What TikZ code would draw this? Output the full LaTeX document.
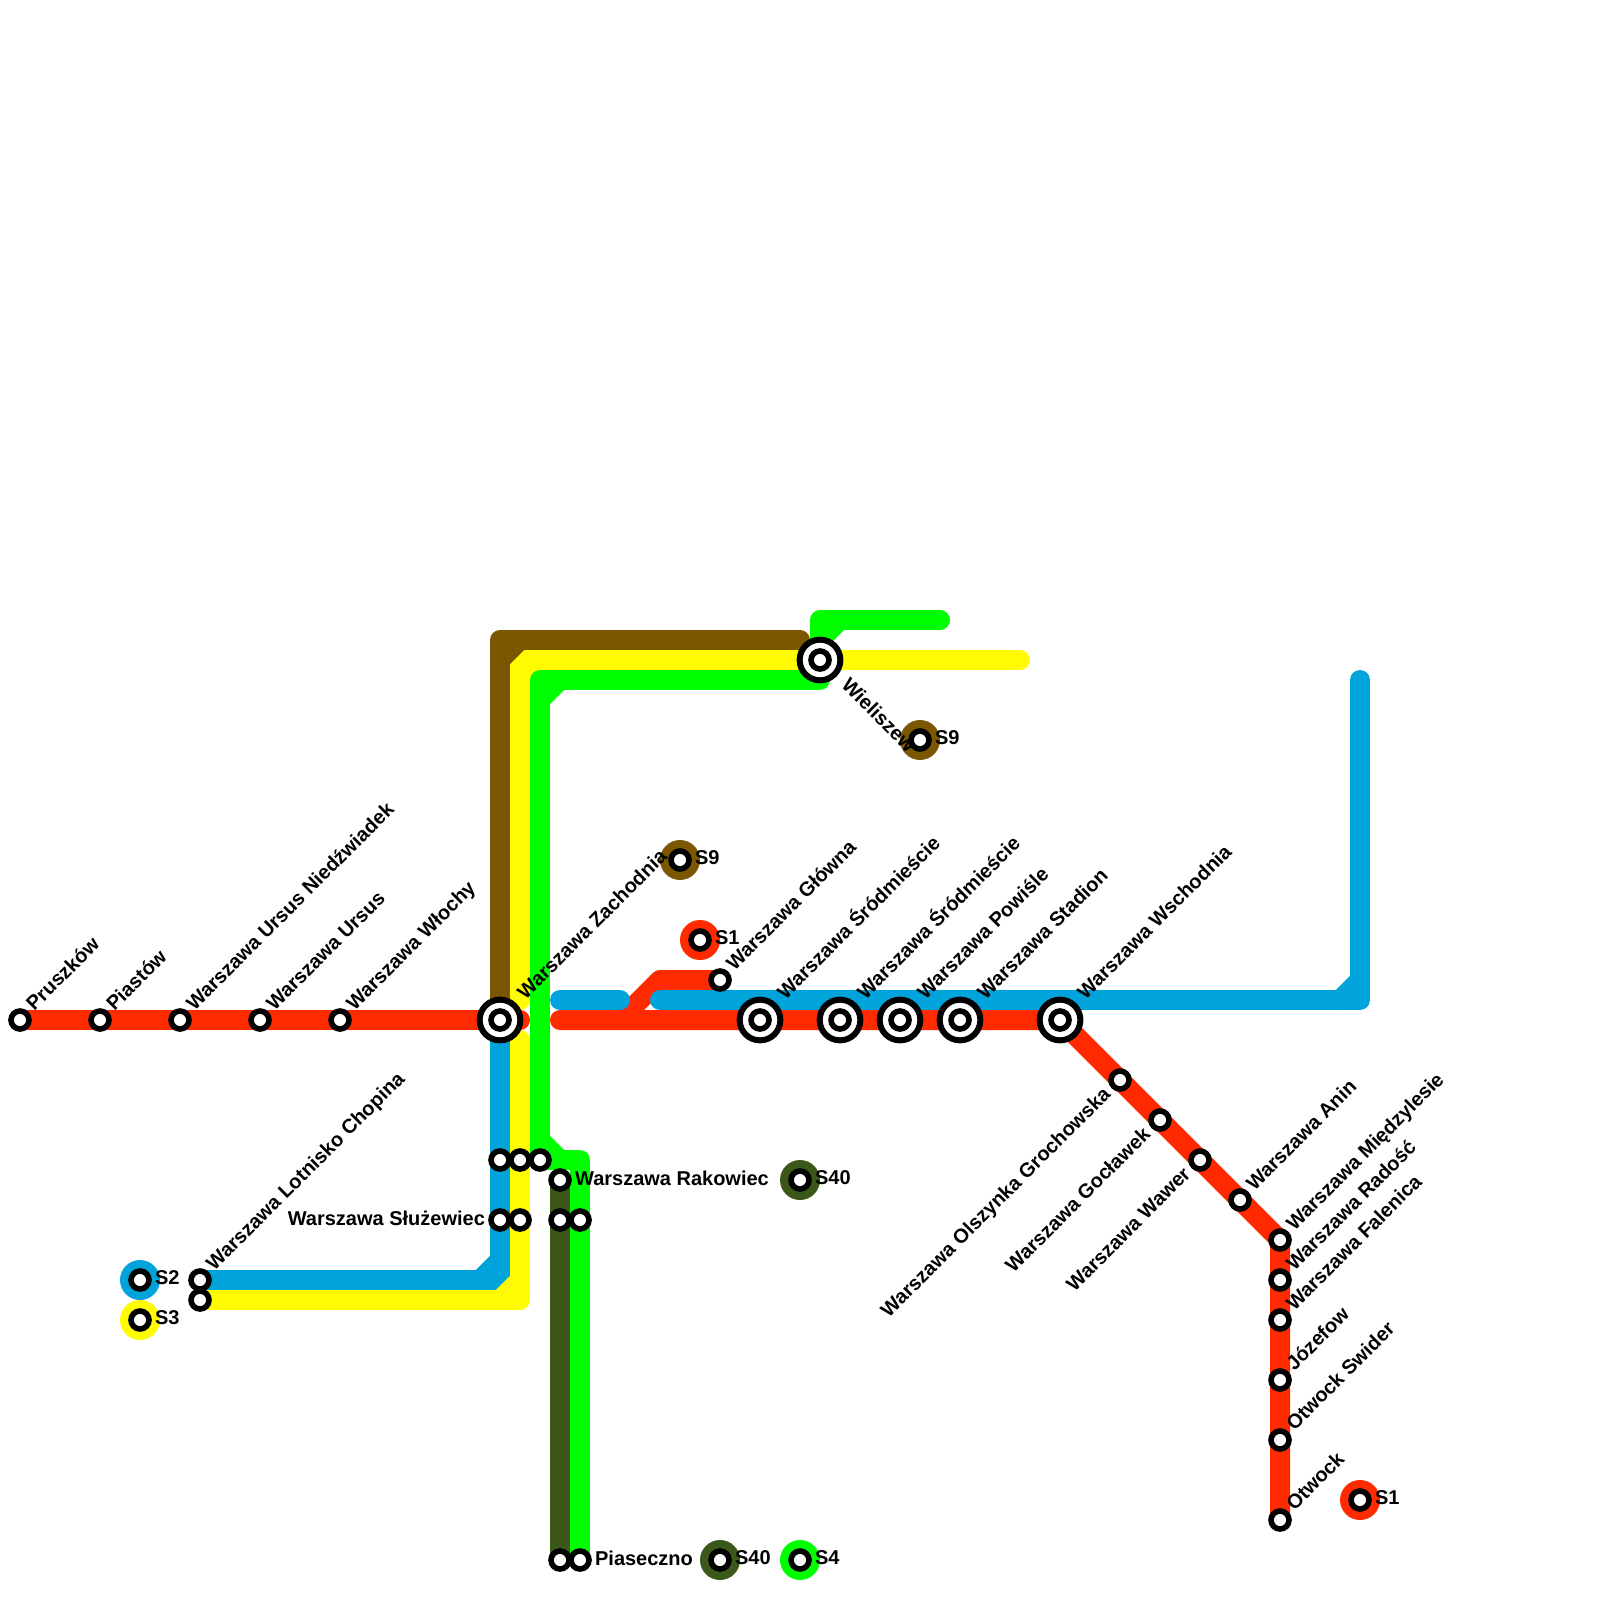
\documentclass[tikz,border=0pt]{standalone}
\usepackage{fontspec}
\setmainfont{Liberation Sans}
\usetikzlibrary{backgrounds}

\definecolor{sone}{HTML}{FF2A00}
\definecolor{stwo}{HTML}{00A3DA}
\definecolor{sthree}{HTML}{FFFB00}
\definecolor{sfour}{HTML}{00FF00}
\definecolor{snine}{HTML}{7A5700}
\definecolor{sforty}{HTML}{3B571A}

\tikzset{
	stop/.style={circle, draw=black, fill=white, line width=0.56mm, minimum size=1.8mm, inner sep=0pt},
	hub/.style={circle, draw=black, fill=white, line width=0.6mm, minimum size=4.07mm, inner sep=0pt, label={[stop]center:{}}},
	disc/.style={circle, minimum size=4mm, inner sep=0pt, label={[stop]center:{}}},
	track/.style={line width=2mm, line cap=round, line join=round},
	tag/.style={inner sep=0pt, font=\fontsize{5.69}{6.8}\selectfont\bfseries},
	tagup/.style={tag, shift={(0.7,-0.4)}, rotate=45, anchor=base west},
	taghub/.style={tag, shift={(1.25,-0.95)}, rotate=45, anchor=base west},
	tagback/.style={tag, shift={(-0.4,0.75)}, rotate=45, anchor=base east},
	tagdown/.style={tag, shift={(1.0,1.3)}, rotate=-45, anchor=base west},
	tagright/.style={tag, shift={(0.72,-0.1)}, anchor=west},
	tagleft/.style={tag, shift={(-0.72,-0.1)}, anchor=east}
}

\begin{document}
\begin{tikzpicture}[x=2mm, y=-2mm]
	\useasboundingbox (0,0) rectangle (80,80);

	% Line S1 from the west
	\node[stop] (pruszkow) at (1,51) {};
	\node[stop] (piastow) at (5,51) {};
	\node[stop] (niedzwiadek) at (9,51) {};
	\node[stop] (ursus) at (13,51) {};
	\node[stop] (wlochy) at (17,51) {};
	\node[hub] (zachodnia) at (25,51) {};

	% City stations
	\node[stop] (glowna) at (36,49) {};
	\node[hub] (srodmiescieA) at (38,51) {};
	\node[hub] (srodmiescieB) at (42,51) {};
	\node[hub] (powisle) at (45,51) {};
	\node[hub] (stadion) at (48,51) {};
	\node[hub] (wschodnia) at (53,51) {};
	\node[hub] (wieliszew) at (41,33) {};

	% Line S1 to the south east
	\node[stop] (olszynka) at (56,54) {};
	\node[stop] (goclawek) at (58,56) {};
	\node[stop] (wawer) at (60,58) {};
	\node[stop] (anin) at (62,60) {};
	\node[stop] (miedzylesie) at (64,62) {};
	\node[stop] (radosc) at (64,64) {};
	\node[stop] (falenica) at (64,66) {};
	\node[stop] (jozefow) at (64,69) {};
	\node[stop] (swider) at (64,72) {};
	\node[stop] (otwock) at (64,76) {};

	% Southern branches
	\node[stop] (lotniskoA) at (10,64) {};
	\node[stop] (lotniskoB) at (10,65) {};
	\node[stop] (rowAa) at (25,58) {};
	\node[stop] (rowAb) at (26,58) {};
	\node[stop] (rowAc) at (27,58) {};
	\node[stop] (sluzewiecA) at (25,61) {};
	\node[stop] (sluzewiecB) at (26,61) {};
	\node[stop] (rakowiec) at (28,59) {};
	\node[stop] (rowBa) at (28,61) {};
	\node[stop] (rowBb) at (29,61) {};
	\node[stop] (piasecznoA) at (28,78) {};
	\node[stop] (piasecznoB) at (29,78) {};

	% Line ends
	\node[disc, fill=sone] (endOne) at (35,47) {};
	\node[disc, fill=sone] (endOneB) at (68,75) {};
	\node[disc, fill=stwo] (endTwo) at (7,64) {};
	\node[disc, fill=sthree] (endThree) at (7,66) {};
	\node[disc, fill=sfour] (endFour) at (40,78) {};
	\node[disc, fill=snine] (endNine) at (34,43) {};
	\node[disc, fill=snine] (endNineB) at (46,37) {};
	\node[disc, fill=sforty] (endForty) at (40,59) {};
	\node[disc, fill=sforty] (endFortyB) at (36,78) {};

	% Corners and loose ends
	\coordinate (r1) at (26,51);
	\coordinate (r2) at (28,51);
	\coordinate (r3) at (31,51);
	\coordinate (r4) at (33,49);
	\coordinate (b1) at (24,64);
	\coordinate (b2) at (25,64);
	\coordinate (b3) at (25,63);
	\coordinate (b4) at (28,50);
	\coordinate (b5) at (31,50);
	\coordinate (b6) at (33,50);
	\coordinate (b7) at (67,50);
	\coordinate (b8) at (68,50);
	\coordinate (b9) at (68,49);
	\coordinate (b10) at (68,34);
	\coordinate (y1) at (26,50);
	\coordinate (y2) at (26,34);
	\coordinate (y3) at (26,33);
	\coordinate (y4) at (27,33);
	\coordinate (y5) at (51,33);
	\coordinate (y6) at (26,52);
	\coordinate (y7) at (26,64);
	\coordinate (y8) at (26,65);
	\coordinate (y9) at (25,65);
	\coordinate (g1) at (41,34);
	\coordinate (g2) at (28,34);
	\coordinate (g3) at (27,34);
	\coordinate (g4) at (27,35);
	\coordinate (g5) at (27,57);
	\coordinate (g6) at (28,58);
	\coordinate (g7) at (29,58);
	\coordinate (g8) at (41,32);
	\coordinate (g9) at (41,31);
	\coordinate (g10) at (42,31);
	\coordinate (g11) at (47,31);
	\coordinate (n1) at (25,50);
	\coordinate (n2) at (25,33);
	\coordinate (n3) at (25,32);
	\coordinate (n4) at (26,32);
	\coordinate (n5) at (40,32);

	% Connections
	\begin{scope}[on background layer]
		\draw[track, sone] (pruszkow.center) -- (r1);
		\draw[track, sone] (r2) -- (wschodnia.center) -- (miedzylesie.center) -- (otwock.center);
		\draw[track, sone] (r3) -- (r4) -- (glowna.center);
		\draw[track, stwo] (lotniskoA.center) -- (b2) -- (zachodnia.center);
		\draw[track, stwo] (b1) -- (b3);
		\draw[track, stwo] (b4) -- (b5);
		\draw[track, stwo] (b6) -- (b8) -- (b10);
		\draw[track, stwo] (b7) -- (b9);
		\draw[track, sthree] (y1) -- (y3) -- (y5);
		\draw[track, sthree] (y2) -- (y4);
		\draw[track, sthree] (lotniskoB.center) -- (y8) -- (y6);
		\draw[track, sthree] (y9) -- (y7);
		\draw[track, sfour] (wieliszew.center) -- (g1) -- (g3) -- (rowAc.center) -- (g7) -- (piasecznoB.center);
		\draw[track, sfour] (g4) -- (g2);
		\draw[track, sfour] (g5) -- (g6);
		\draw[track, sfour] (wieliszew.center) -- (g9) -- (g11);
		\draw[track, sfour] (g8) -- (g10);
		\draw[track, snine] (n1) -- (n3) -- (n5);
		\draw[track, snine] (n2) -- (n4);
		\draw[track, sforty] (rakowiec.center) -- (piasecznoA.center);
	\end{scope}

	% Station names
	\node[tagup] (pruszkowT) at (pruszkow) {Pruszków};
	\node[tagup] (piastowT) at (piastow) {Piastów};
	\node[tagup] (niedzwiadekT) at (niedzwiadek) {Warszawa Ursus Niedźwiadek};
	\node[tagup] (ursusT) at (ursus) {Warszawa Ursus};
	\node[tagup] (wlochyT) at (wlochy) {Warszawa Włochy};
	\node[taghub] (zachodniaT) at (zachodnia) {Warszawa Zachodnia};
	\node[tagup] (glownaT) at (glowna) {Warszawa Główna};
	\node[taghub] (srodmiescieAT) at (srodmiescieA) {Warszawa Śródmieście};
	\node[taghub] (srodmiescieBT) at (srodmiescieB) {Warszawa Śródmieście};
	\node[taghub] (powisleT) at (powisle) {Warszawa Powiśle};
	\node[taghub] (stadionT) at (stadion) {Warszawa Stadion};
	\node[taghub] (wschodniaT) at (wschodnia) {Warszawa Wschodnia};
	\node[tagdown] (wieliszewT) at (wieliszew) {Wieliszew};
	\node[tagback] (olszynkaT) at (olszynka) {Warszawa Olszynka Grochowska};
	\node[tagback] (goclawekT) at (goclawek) {Warszawa Gocławek};
	\node[tagback] (wawerT) at (wawer) {Warszawa Wawer};
	\node[tagup] (aninT) at (anin) {Warszawa Anin};
	\node[tagup] (miedzylesieT) at (miedzylesie) {Warszawa Międzylesie};
	\node[tagup] (radoscT) at (radosc) {Warszawa Radość};
	\node[tagup] (falenicaT) at (falenica) {Warszawa Falenica};
	\node[tagup] (jozefowT) at (jozefow) {Józefow};
	\node[tagup] (swiderT) at (swider) {Otwock Swider};
	\node[tagup] (otwockT) at (otwock) {Otwock};
	\node[tagup] (lotniskoT) at (lotniskoA) {Warszawa Lotnisko Chopina};
	\node[tagleft] (sluzewiecT) at (sluzewiecA) {Warszawa Służewiec};
	\node[tagright] (rakowiecT) at (rakowiec) {Warszawa Rakowiec};
	\node[tagright] (piasecznoT) at (piasecznoB) {Piaseczno};

	% Line names
	\node[tagright] (endOneT) at (endOne) {S1};
	\node[tagright] (endOneBT) at (endOneB) {S1};
	\node[tagright] (endTwoT) at (endTwo) {S2};
	\node[tagright] (endThreeT) at (endThree) {S3};
	\node[tagright] (endFourT) at (endFour) {S4};
	\node[tagright] (endNineT) at (endNine) {S9};
	\node[tagright] (endNineBT) at (endNineB) {S9};
	\node[tagright] (endFortyT) at (endForty) {S40};
	\node[tagright] (endFortyBT) at (endFortyB) {S40};
\end{tikzpicture}
\end{document}
